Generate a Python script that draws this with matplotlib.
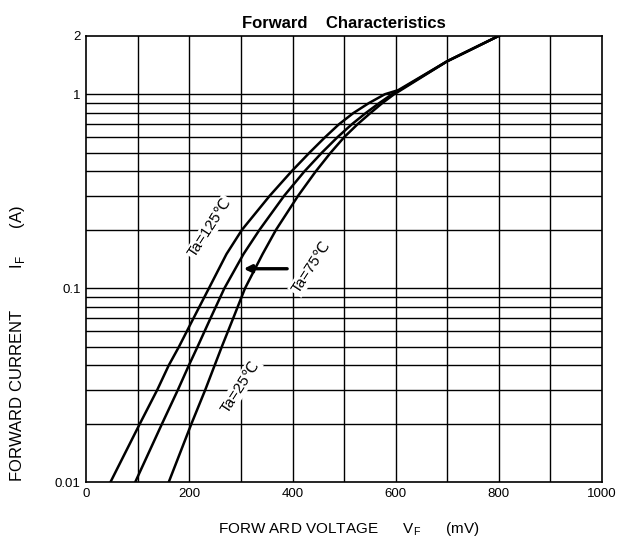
import matplotlib
matplotlib.use("Agg")
import matplotlib.pyplot as plt
import numpy as np
from matplotlib.ticker import FixedLocator, NullFormatter

plt.rcParams['font.family'] = ['Liberation Sans', 'DejaVu Sans']
plt.rcParams['mathtext.fontset'] = 'custom'
plt.rcParams['mathtext.rm'] = 'Liberation Sans'

# forward voltage (mV) vs forward current (A)
v125 = [47, 104, 138, 160, 180, 208, 238, 272, 302, 356, 398, 433, 463, 490, 518, 548, 579, 605, 700, 800]
i125 = [0.01, 0.02, 0.03, 0.04, 0.05, 0.07, 0.1, 0.15, 0.2, 0.3, 0.4, 0.5, 0.6, 0.7, 0.8, 0.9, 1.0, 1.05, 1.48, 2.0]

v75 = [95, 147, 178, 199, 216, 241, 268, 305, 336, 384, 423, 457, 487, 515, 542, 568, 593, 605, 700, 800]
i75 = [0.01, 0.02, 0.03, 0.04, 0.05, 0.07, 0.1, 0.15, 0.2, 0.3, 0.4, 0.5, 0.6, 0.7, 0.8, 0.9, 1.0, 1.04, 1.48, 2.0]

v25 = [160, 204, 231, 249, 263, 285, 308, 342, 368, 411, 445, 474, 500, 526, 551, 574, 597, 605, 700, 800]
i25 = [0.01, 0.02, 0.03, 0.04, 0.05, 0.07, 0.1, 0.15, 0.2, 0.3, 0.4, 0.5, 0.6, 0.7, 0.8, 0.9, 1.0, 1.03, 1.48, 2.0]

xticks = [0, 200, 400, 600, 800, 1000]
yticks = [0.01, 0.1, 1, 2]
ytick_labels = ['0.01', '0.1', '1', '2']
ygrid = [0.02, 0.03, 0.04, 0.05, 0.06, 0.07, 0.08, 0.09, 0.1,
         0.2, 0.3, 0.4, 0.5, 0.6, 0.7, 0.8, 0.9, 1]

fig = plt.figure(figsize=(6.2, 5.43), dpi=100)
ax = fig.add_axes([0.139, 0.112, 0.832, 0.822])

ax.set_yscale('log')
ax.set_xlim(0, 1000)
ax.set_ylim(0.01, 2)

# grid drawn by hand so it matches the sheet (no line at 1.5 etc.)
for x in range(100, 1000, 100):
    ax.axvline(x, color='black', lw=1.0, zorder=1)
for y in ygrid:
    ax.axhline(y, color='black', lw=1.0, zorder=1)

ax.plot(v125, i125, color='black', lw=1.8, zorder=3)
ax.plot(v75, i75, color='black', lw=1.8, zorder=3)
ax.plot(v25, i25, color='black', lw=1.8, zorder=3)

lbl = dict(fontsize=11, ha='center', va='center', rotation=57, zorder=4,
           bbox=dict(facecolor='white', edgecolor='none', pad=1.0))
ax.text(240, 0.205, 'Ta=125℃', **lbl)
ax.text(436, 0.128, 'Ta=75℃', **lbl)
ax.text(298, 0.031, 'Ta=25℃', **lbl)

ax.annotate('', xy=(300, 0.126), xytext=(395, 0.126),
            arrowprops=dict(arrowstyle='-|>', color='black', lw=2.4,
                            mutation_scale=11), zorder=5)

ax.xaxis.set_major_locator(FixedLocator(xticks))
ax.yaxis.set_major_locator(FixedLocator(yticks))
ax.yaxis.set_minor_locator(FixedLocator([]))
ax.yaxis.set_minor_formatter(NullFormatter())
ax.set_yticklabels(ytick_labels)
ax.tick_params(length=0, labelsize=9.5, pad=4)

for s in ax.spines.values():
    s.set_linewidth(1.2)
    s.set_color('black')

ax.set_title('Forward    Characteristics', fontsize=12, fontweight='bold', pad=6)
ax.set_xlabel(r'FORW ARD VOLTAGE      V$_{\rm F}$      (mV)', fontsize=11)
ax.xaxis.set_label_coords(0.51, -0.085)
ax.set_ylabel('FORWARD CURRENT' + ' ' * 9 + r'I$_{\rm F}$' + ' ' * 6 + '(A)',
              fontsize=12)
ax.yaxis.label.set_horizontalalignment('left')
ax.yaxis.set_label_coords(-0.115, 0.0)

fig.savefig('out.png', dpi=100)
